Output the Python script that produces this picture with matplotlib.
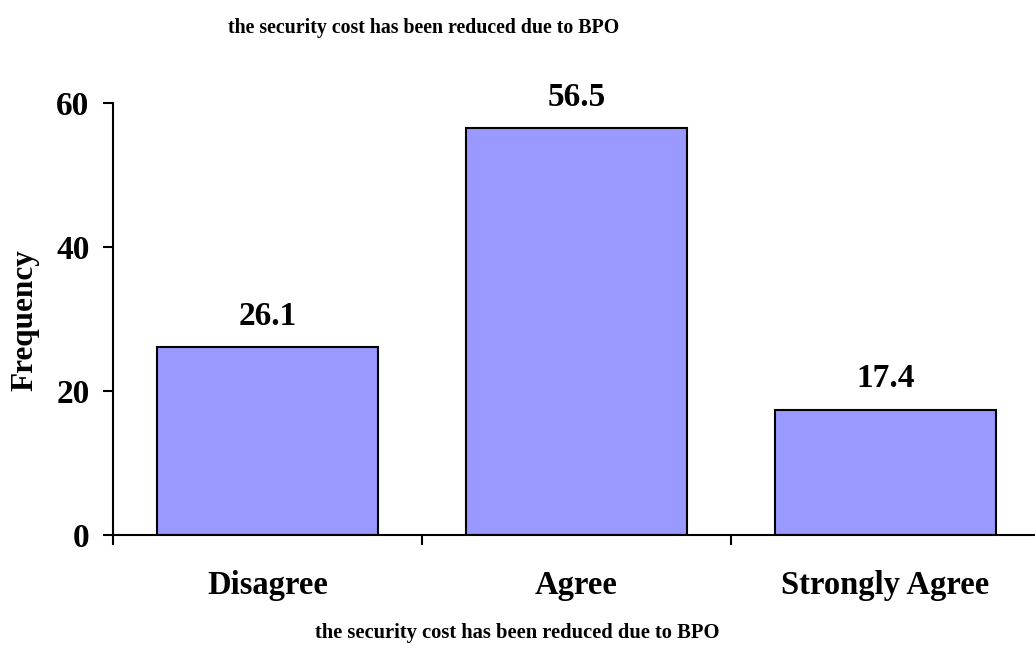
import matplotlib.pyplot as plt

# Survey responses (percent) for the BPO security-cost statement
categories = ['Disagree', 'Agree', 'Strongly Agree']
values = [26.1, 56.5, 17.4]
y_ticks = [0, 20, 40, 60]
title_text = 'the security cost has been reduced due to BPO'

plt.rcParams['font.family'] = 'Liberation Serif'
plt.rcParams['font.weight'] = 'bold'

fig = plt.figure(figsize=(10.35, 6.46), dpi=100)
ax = fig.add_axes([113 / 1035, 0.1718, 927 / 1035, 0.6687])

x = list(range(len(categories)))
bars = ax.bar(x, values, width=0.715, color='#9999FF', edgecolor='black', linewidth=1.5)

# value labels above each bar
for b, v in zip(bars, values):
    ax.annotate(f'{v:.1f}', (b.get_x() + b.get_width() / 2, v),
                xytext=(0, 11), textcoords='offset points',
                ha='center', va='bottom', fontsize=24, fontweight='bold')

ax.set_xlim(-0.5, 2.5)
ax.set_ylim(0, 60)
ax.set_yticks(y_ticks)
ax.set_yticklabels([str(t) for t in y_ticks], fontsize=24, fontweight='bold')
ax.tick_params(axis='y', direction='out', length=7, width=1.5, pad=10)

# category labels without ticks; ticks sit on the category boundaries
ax.set_xticks(x)
ax.set_xticklabels(categories, fontsize=23.5, fontweight='bold')
ax.tick_params(axis='x', which='major', length=0, pad=25)
ax.set_xticks([-0.5, 0.5, 1.5, 2.5], minor=True)
ax.tick_params(axis='x', which='minor', direction='out', length=7, width=1.5)

for side in ['top', 'right']:
    ax.spines[side].set_visible(False)
for side in ['left', 'bottom']:
    ax.spines[side].set_linewidth(1.5)

fig.text(25 / 1035, 1 - 320 / 646, 'Frequency', rotation=90, ha='center', va='center',
         fontsize=22.5, fontweight='bold')

fig.text(0.409, 1 - 28 / 646, title_text, ha='center', va='center',
         fontsize=14.3, fontweight='bold')
fig.text(0.5, 1 - 633 / 646, title_text, ha='center', va='center',
         fontsize=14.8, fontweight='bold')

fig.savefig('out.png', dpi=100)
